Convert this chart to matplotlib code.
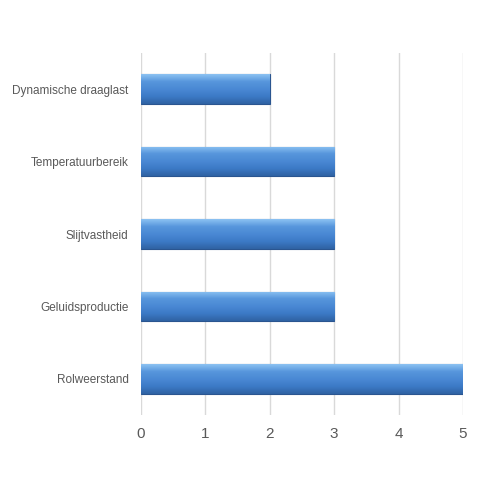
import numpy as np
import matplotlib.pyplot as plt
from matplotlib.colors import LinearSegmentedColormap

plt.rcParams["font.family"] = ["Liberation Sans", "DejaVu Sans"]

# data
categories = ["Rolweerstand", "Geluidsproductie", "Slijtvastheid",
              "Temperatuurbereik", "Dynamische draaglast"]
values = [5, 3, 3, 3, 2]
xticks = [0, 1, 2, 3, 4, 5]

fig = plt.figure(figsize=(5, 5), dpi=100)
ax = fig.add_axes([0.282, 0.17, 0.644, 0.724])

y = np.arange(len(categories))
bars = ax.barh(y, values, height=0.41, color="#4a86cf",
               edgecolor="#2a5590", linewidth=0.8, zorder=2)

# vertical gradient fill for each bar
cmap = LinearSegmentedColormap.from_list(
    "bar", ["#2f62a3", "#3c7ac6", "#4a89d4", "#5796dc", "#8cc2f2"])
grad = np.linspace(0, 1, 100).reshape(-1, 1)
for b in bars:
    x0, y0 = b.get_x(), b.get_y()
    w, h = b.get_width(), b.get_height()
    im = ax.imshow(grad, cmap=cmap, aspect="auto", origin="lower",
                   extent=[x0, x0 + w, y0, y0 + h], zorder=2.5)
    im.set_clip_path(b)

ax.set_xlim(0, 5)
ax.set_ylim(-0.5, len(categories) - 0.5)
ax.set_xticks(xticks)
ax.set_yticks(y)
ax.set_yticklabels(categories)
ax.grid(axis="x", color="#d9d9d9", linewidth=1, zorder=0)
ax.tick_params(axis="both", length=0, colors="#595959")
ax.tick_params(axis="x", pad=9, labelsize=11)
ax.tick_params(axis="y", pad=9, labelsize=8.5)
for s in ax.spines.values():
    s.set_visible(False)

fig.savefig("out.png", dpi=100)
